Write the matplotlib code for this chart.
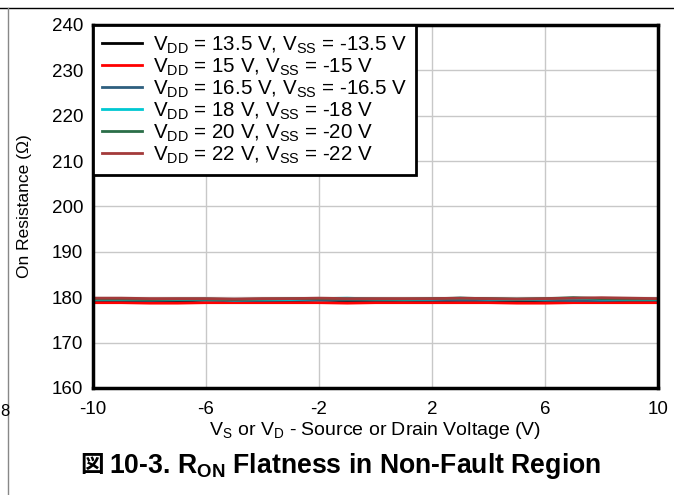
import numpy as np
import matplotlib.pyplot as plt

plt.rcParams['font.family'] = ['Liberation Sans', 'DejaVu Sans']
plt.rcParams['axes.unicode_minus'] = False
plt.rcParams['mathtext.fontset'] = 'custom'
plt.rcParams['mathtext.rm'] = 'Liberation Sans'
plt.rcParams['mathtext.bf'] = 'Liberation Sans:bold'

# source / drain voltage (V)
vs = [-10, -9, -8, -7, -6, -5, -4, -3, -2, -1, 0, 1, 2, 3, 4, 5, 6, 7, 8, 9, 10]

labels = [
    r"V$_{\mathrm{DD}}$ = 13.5 V, V$_{\mathrm{SS}}$ = -13.5 V",
    r"V$_{\mathrm{DD}}$ = 15 V, V$_{\mathrm{SS}}$ = -15 V",
    r"V$_{\mathrm{DD}}$ = 16.5 V, V$_{\mathrm{SS}}$ = -16.5 V",
    r"V$_{\mathrm{DD}}$ = 18 V, V$_{\mathrm{SS}}$ = -18 V",
    r"V$_{\mathrm{DD}}$ = 20 V, V$_{\mathrm{SS}}$ = -20 V",
    r"V$_{\mathrm{DD}}$ = 22 V, V$_{\mathrm{SS}}$ = -22 V",
]
colors = ["#000000", "#ff0000", "#2e5f7f", "#00c8d2", "#2a6e48", "#a33a3a"]

r_13v5 = [179.3, 179.2, 179.0, 179.1, 179.4, 179.3, 179.1, 179.2, 179.4, 179.2, 179.2,
          179.3, 179.2, 179.3, 179.3, 179.2, 179.3, 179.3, 179.2, 179.3, 179.3]
r_15 = [178.8, 178.8, 178.7, 178.7, 178.8, 178.8, 178.8, 178.8, 178.8, 178.7, 178.8,
        178.8, 178.8, 178.8, 178.8, 178.7, 178.7, 178.8, 178.8, 178.8, 178.8]
r_16v5 = [179.4, 179.4, 179.3, 179.4, 179.4, 179.3, 179.3, 179.4, 179.4, 179.4, 179.4,
          179.4, 179.4, 179.4, 179.4, 179.4, 179.4, 179.3, 179.3, 179.4, 179.4]
r_18 = [179.5, 179.5, 179.5, 179.5, 179.6, 179.4, 179.5, 179.5, 179.7, 179.8, 179.6,
        179.5, 179.6, 179.8, 179.6, 179.5, 179.6, 179.8, 179.6, 179.5, 179.5]
r_20 = [179.6, 179.6, 179.5, 179.6, 179.6, 179.5, 179.6, 179.7, 179.7, 179.6, 179.6,
        179.6, 179.7, 179.8, 179.7, 179.6, 179.7, 179.9, 179.7, 179.6, 179.6]
r_22 = [179.8, 179.8, 179.7, 179.7, 179.7, 179.6, 179.7, 179.7, 179.8, 179.7, 179.7,
        179.7, 179.7, 179.8, 179.7, 179.6, 179.7, 179.8, 179.9, 179.8, 179.7]
series = [r_13v5, r_15, r_16v5, r_18, r_20, r_22]

fig = plt.figure(figsize=(6.74, 4.95), dpi=100)
ax = fig.add_axes([93 / 674, 1 - 388 / 495, 565 / 674, 363 / 495])

for vals, col, lab in zip(series, colors, labels):
    ax.plot(vs, vals, color=col, lw=2.0, label=lab)

ax.set_xlim(-10, 10)
ax.set_ylim(160, 240)
ax.set_xticks([-10, -6, -2, 2, 6, 10])
ax.set_yticks(np.arange(160, 241, 10))
ax.grid(True, color="#c8c8c8", lw=1)
ax.set_axisbelow(True)
ax.tick_params(length=0, labelsize=13.5)
ax.tick_params(axis="x", pad=9)
ax.tick_params(axis="y", pad=7)
for sp in ax.spines.values():
    sp.set_linewidth(2.5)

ax.set_ylabel("On Resistance (Ω)", fontsize=12.5, labelpad=14)
ax.set_xlabel(r"V$_{\mathrm{S}}$ or V$_{\mathrm{D}}$ - Source or Drain Voltage (V)",
              fontsize=14, labelpad=2)

leg = ax.legend(loc="upper left", fontsize=14.8, handlelength=1.95, borderaxespad=0,
                labelspacing=0.02, fancybox=False, framealpha=1, borderpad=0.45,
                handletextpad=0.5)
leg.get_frame().set_edgecolor("black")
leg.get_frame().set_linewidth(2)

# caption: CJK glyph drawn on its own, rest with mathtext subscript
fig.text(80 / 674, 1 - 465 / 495, "図", ha="left", va="center", fontsize=17,
         fontweight="bold", family="Noto Sans CJK JP")
fig.text(109 / 674, 1 - 466 / 495, r"10-3. R$_{\mathbf{ON}}$ Flatness in Non-Fault Region",
         ha="left", va="center", fontsize=19.2, fontweight="bold")

# page edges around the figure
fig.add_artist(plt.Line2D([0, 1], [1 - 8 / 495, 1 - 8 / 495], color="black", lw=1))
fig.add_artist(plt.Line2D([8 / 674, 8 / 674], [0, 1 - 8 / 495], color="#888888", lw=1))
fig.text(0.0, 1 - 411 / 495, "8", fontsize=12, va="center")

fig.savefig("out.png", dpi=100)
